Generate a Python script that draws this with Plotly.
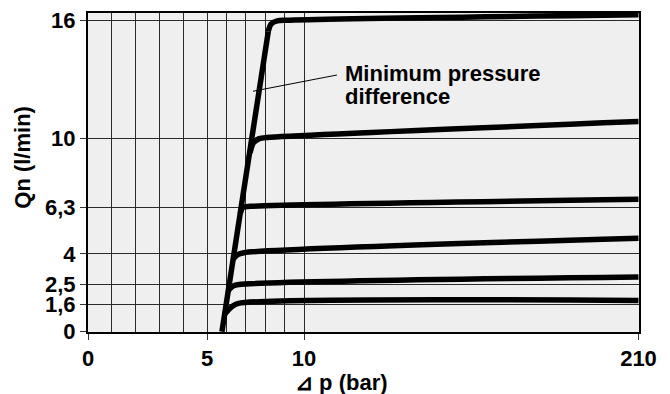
import numpy as np
import plotly.graph_objects as go

# ---------------- data (Δp in bar, Qn in l/min) ----------------
dp_ticks = [0, 5, 10, 210]
dp_tick_text = ["0", "5", "10", "210"]
dp_grid = [1, 2, 3, 4, 6, 7, 8, 9]
q_ticks = [0, 1.6, 2.5, 4, 6.3, 10, 16]
q_tick_text = ["0", "1,6", "2,5", "4", "6,3", "10", "16"]

# minimum pressure difference line
min_dp = [5.77, 8.16]
min_q = [0.0, 15.45]

# flow curves
c16_dp = [8.16, 8.30, 8.62, 9.10, 210]
c16_q = [15.45, 15.82, 15.98, 16.02, 16.30]
c10_dp = [7.22, 7.40, 7.70, 8.10, 210]
c10_q = [9.21, 9.76, 9.97, 10.03, 10.84]
c63_dp = [6.71, 6.86, 7.25, 210]
c63_q = [5.99, 6.32, 6.37, 6.74]
c4_dp = [6.35, 6.58, 6.90, 210]
c4_q = [3.75, 3.97, 4.06, 4.78]
c25_dp = [6.09, 6.34, 6.65, 210]
c25_q = [2.23, 2.44, 2.51, 2.88]
c16b_dp = [5.90, 6.29, 6.62, 210]
c16b_q = [1.03, 1.50, 1.66, 1.79]

curves = [(c16_dp, c16_q), (c10_dp, c10_q), (c63_dp, c63_q),
          (c4_dp, c4_q), (c25_dp, c25_q), (c16b_dp, c16b_q)]

# leader line of the label (Δp, Qn)
leader_dp = [7.37, 29.7]
leader_q = [12.39, 13.22]

# ---------------- broken (piecewise-linear) axis scales ----------------
X_KNOTS = [0, 5, 10, 210]
X_POS = [0, 119, 216, 550.5]
Y_KNOTS = [0, 1.6, 2.5, 4, 6.3, 10, 16, 17]
Y_POS = [0, 27.4, 47.7, 79, 126, 196.7, 316, 335.9]


def sx(v):
    return np.interp(np.asarray(v, dtype=float), X_KNOTS, X_POS)


def sy(v):
    return np.interp(np.asarray(v, dtype=float), Y_KNOTS, Y_POS)


FONT = "Liberation Sans, Arial, sans-serif"
fig = go.Figure()

fig.add_trace(go.Scatter(x=sx(min_dp), y=sy(min_q), mode="lines",
                         line=dict(color="black", width=5.5),
                         cliponaxis=False, hoverinfo="skip", showlegend=False))
for dp, q in curves:
    fig.add_trace(go.Scatter(x=sx(dp), y=sy(q), mode="lines",
                             line=dict(color="black", width=5.5, shape="spline", smoothing=0.8),
                             cliponaxis=False, hoverinfo="skip", showlegend=False))

fig.add_shape(type="line", xref="x", yref="y",
              x0=float(sx(leader_dp[0])), y0=float(sy(leader_q[0])),
              x1=float(sx(leader_dp[1])), y1=float(sy(leader_q[1])),
              line=dict(color="black", width=1))

fig.update_layout(
    width=670, height=394,
    margin=dict(l=88, r=31, t=8, b=62),
    paper_bgcolor="white", plot_bgcolor="#efefef",
    font=dict(family=FONT, size=22, color="black", weight="bold"),
    xaxis=dict(range=[0, 551], tickmode="array", tickvals=sx(dp_ticks).tolist(),
               ticktext=dp_tick_text, ticks="outside", ticklen=6, tickcolor="#333",
               showgrid=True, gridcolor="#2a2a2a", gridwidth=1,
               showline=True, linecolor="black", linewidth=2, mirror=True,
               zeroline=False, fixedrange=True,
               tickfont=dict(family=FONT, size=22, color="black", weight="bold"),
               minor=dict(tickmode="array", tickvals=sx(dp_grid).tolist(),
                          showgrid=True, gridcolor="#2a2a2a", gridwidth=1, ticks="")),
    yaxis=dict(range=[-0.3, 323.7], tickmode="array", tickvals=sy(q_ticks).tolist(),
               ticktext=q_tick_text, ticks="outside", ticklen=6, tickcolor="#333",
               showgrid=True, gridcolor="#2a2a2a", gridwidth=1,
               showline=True, linecolor="black", linewidth=2, mirror=True,
               zeroline=False, fixedrange=True,
               tickfont=dict(family=FONT, size=22, color="black", weight="bold")),
    annotations=[
        dict(text="Minimum pressure", xref="paper", yref="paper",
             x=(343 - 88) / 551, y=(332 - 69) / 324, xanchor="left", yanchor="middle",
             showarrow=False, font=dict(family=FONT, size=22, weight="bold")),
        dict(text="difference", xref="paper", yref="paper",
             x=(343 - 88) / 551, y=(332 - 93) / 324, xanchor="left", yanchor="middle",
             showarrow=False, font=dict(family=FONT, size=22, weight="bold")),
        dict(text="Qn (l/min)", xref="paper", yref="paper",
             x=(23 - 88) / 551, y=(332 - 155) / 324, xanchor="center", yanchor="middle",
             textangle=-90, showarrow=False, font=dict(family=FONT, size=22, weight="bold")),
        dict(text="⊿ p (bar)", xref="paper", yref="paper",
             x=(341.5 - 88) / 551, y=(332 - 383) / 324, xanchor="center", yanchor="middle",
             showarrow=False, font=dict(family=FONT, size=22, weight="bold")),
    ],
)

fig.write_html("out.html", config={"displayModeBar": False},
               post_script="document.body.style.margin='0';document.body.style.overflow='hidden';")
